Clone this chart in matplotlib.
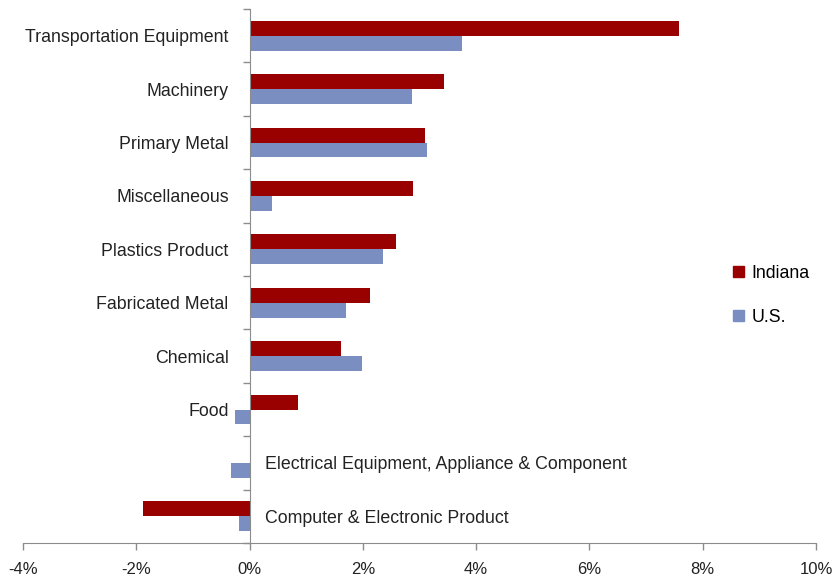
import matplotlib.pyplot as plt
import numpy as np
from matplotlib.patches import Patch
from matplotlib.transforms import offset_copy

plt.rcParams['font.family'] = ['Liberation Sans', 'DejaVu Sans']

industries = ['Transportation Equipment', 'Machinery', 'Primary Metal',
              'Miscellaneous', 'Plastics Product', 'Fabricated Metal',
              'Chemical', 'Food',
              'Electrical Equipment, Appliance & Component',
              'Computer & Electronic Product']
indiana = [7.58, 3.44, 3.09, 2.89, 2.59, 2.12, 1.62, 0.86, 0.0, -1.89]
us = [3.75, 2.86, 3.14, 0.39, 2.36, 1.71, 1.99, -0.26, -0.32, -0.19]
x_ticks = [-4, -2, 0, 2, 4, 6, 8, 10]

red = '#990000'
blue = '#7A8EC2'
axis_gray = '#8c8c8c'
text_color = '#222222'
fs = 12.8

fig = plt.figure(figsize=(8.32, 5.79), dpi=100)
ax = fig.add_axes([23 / 832, 1 - 543 / 579, 793 / 832, 534 / 579])

n = len(industries)
centers = np.arange(n) + 0.5
h = 0.28
ax.barh(centers - h / 2, indiana, height=h, color=red, label='Indiana')
ax.barh(centers + h / 2, us, height=h, color=blue, label='U.S.')

ax.set_xlim(-4, 10)
ax.set_ylim(n, 0)
ax.set_xticks(x_ticks)
ax.set_xticklabels([f'{t}%' for t in x_ticks], fontsize=12, color=text_color)
ax.set_yticks(np.arange(n + 1))
ax.set_yticklabels([])

for side in ['top', 'right']:
    ax.spines[side].set_visible(False)
ax.spines['left'].set_position(('data', 0))
ax.spines['left'].set_color(axis_gray)
ax.spines['bottom'].set_color(axis_gray)
ax.tick_params(axis='both', direction='out', length=5, color=axis_gray, width=1)
ax.tick_params(axis='x', pad=9)

# category labels sit beside the zero line, on the side away from the bars
left_tr = offset_copy(ax.transData, fig=fig, x=-15, y=-1.5, units='points')
right_tr = offset_copy(ax.transData, fig=fig, x=11, y=-1.5, units='points')
for name, c, a, b in zip(industries, centers, indiana, us):
    if max(a, b) > 0:
        ax.text(0, c, name, transform=left_tr, ha='right', va='center',
                fontsize=fs, color=text_color)
    else:
        ax.text(0, c, name, transform=right_tr, ha='left', va='center',
                fontsize=fs, color=text_color)

handles = [Patch(color=red, label='Indiana'), Patch(color=blue, label='U.S.')]
ax.legend(handles=handles, loc='center left', bbox_to_anchor=(0.875, 0.464),
          frameon=False, fontsize=fs, handlelength=0.6, handleheight=0.6,
          handletextpad=0.45, labelspacing=1.5)

fig.savefig('out.png', dpi=100)
